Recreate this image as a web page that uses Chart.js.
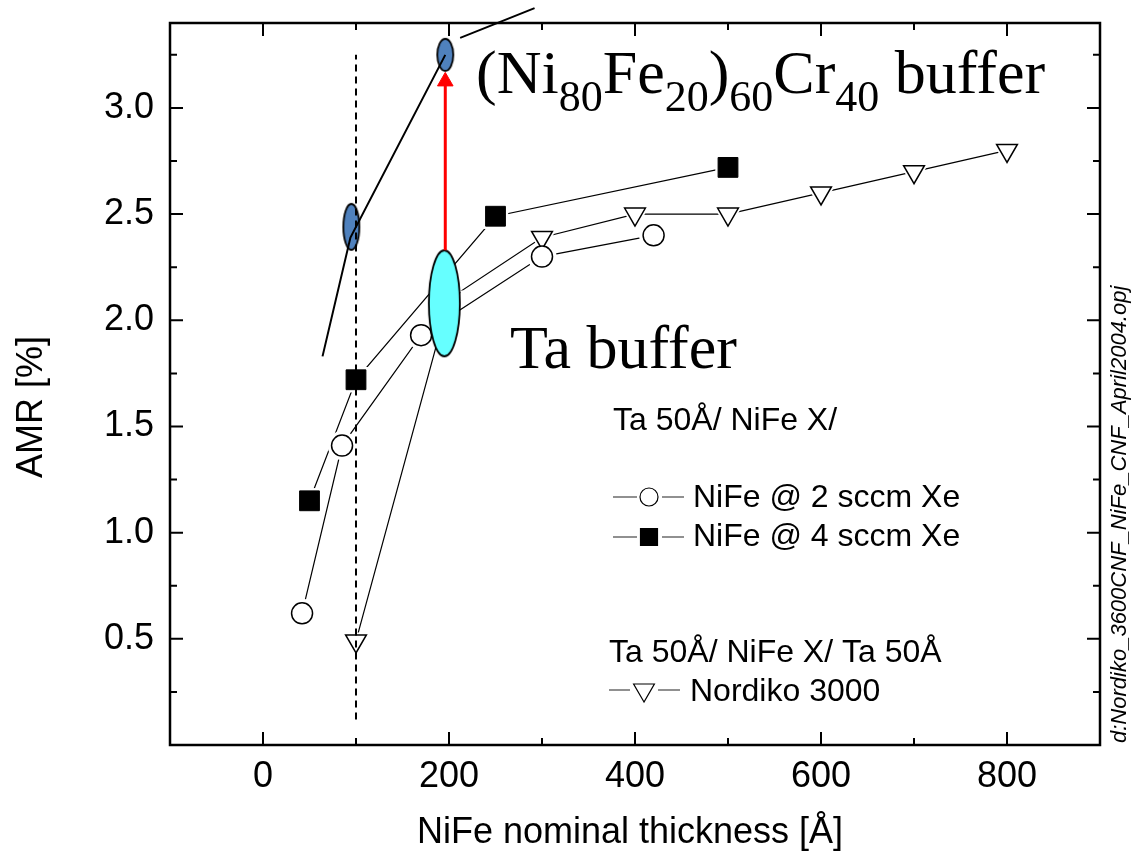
<!DOCTYPE html>
<html>
<head>
<meta charset="utf-8">
<script src="https://cdn.jsdelivr.net/npm/chart.js@4.4.1/dist/chart.umd.min.js"></script>
<style>
html, body { margin: 0; padding: 0; background: #fff; }
#wrap { width: 1132px; height: 858px; }
</style>
</head>
<body>
<div id="wrap"><canvas id="chart" width="1132" height="858"></canvas></div>
<script>
// NiFe @ 2 sccm Xe (open circles)
const thick2 = [42, 85, 170, 300, 420];
const amr2 = [0.62, 1.41, 1.93, 2.30, 2.40];
// NiFe @ 4 sccm Xe (filled squares)
const thick4 = [50, 100, 250, 500];
const amr4 = [1.15, 1.72, 2.49, 2.72];
// Nordiko 3000 (open triangles), the 200 A point sits under the cyan ellipse
const thickN = [100, 200, 300, 400, 500, 600, 700, 800];
const amrN = [0.49, 2.10, 2.39, 2.50, 2.50, 2.60, 2.70, 2.80];
// (Ni80Fe20)60Cr40 buffer guide line
const thickCr = [64, 94, 196];
const amrCr = [1.83, 2.39, 3.25];
const thickCrTail = [212, 292];
const amrCrTail = [3.33, 3.47];
// highlighted points
const blueX = [95, 196];
const blueY = [2.44, 3.25];
const cyanX = [195];
const cyanY = [2.08];
// red arrow
const arrowX = [196, 196];
const arrowY = [2.33, 3.125];
// dashed line at 100 A
const dashX = [100, 100];
const dashY = [0.12, 3.25];

// axis ticks
const xMajor = [0, 200, 400, 600, 800];
const xMinor = [100, 300, 500, 700];
const yMajor = [0.5, 1.0, 1.5, 2.0, 2.5, 3.0];
const yMinor = [0.25, 0.75, 1.25, 1.75, 2.25, 2.75, 3.25];

const SANS = "'Liberation Sans', Arial, sans-serif";
const SERIF = "'Liberation Serif', 'Times New Roman', serif";

function pts(xs, ys) {
    return xs.map((x, i) => ({ x: x, y: ys[i] }));
}

function ellipseImg(w, h, fill) {
    const c = document.createElement('canvas');
    c.width = w + 4;
    c.height = h + 4;
    const g = c.getContext('2d');
    g.beginPath();
    g.ellipse(c.width / 2, c.height / 2, w / 2, h / 2, 0, 0, Math.PI * 2);
    g.fillStyle = fill;
    g.fill();
    g.lineWidth = 1.8;
    g.strokeStyle = '#000';
    g.stroke();
    return c;
}

const blueBig = ellipseImg(16, 46, '#4f81bd');
const blueSmall = ellipseImg(16, 32, '#4f81bd');
const cyanEll = ellipseImg(31, 106, '#66ffff');

function lineSet(data, order) {
    return { data: data, showLine: true, borderColor: '#000', borderWidth: 1.2, pointRadius: 0, order: order };
}
function haloSet(data, style, r, rot) {
    return { data: data, showLine: false, pointStyle: style, pointRadius: r, rotation: rot || 0,
        pointBackgroundColor: '#fff', pointBorderColor: '#fff', pointBorderWidth: 0, order: 4 };
}

// frame, inward ticks and all annotation text
const decor = {
    id: 'decor',
    afterDraw(chart) {
        const ctx = chart.ctx;
        const a = chart.chartArea;
        const x = chart.scales.x, y = chart.scales.y;
        ctx.save();
        ctx.strokeStyle = '#000';
        ctx.lineWidth = 2.5;
        ctx.strokeRect(a.left, a.top, a.right - a.left, a.bottom - a.top);
        ctx.lineWidth = 2;
        const xt = (vals, len) => vals.forEach(v => {
            const p = x.getPixelForValue(v);
            ctx.beginPath();
            ctx.moveTo(p, a.bottom); ctx.lineTo(p, a.bottom - len);
            ctx.moveTo(p, a.top); ctx.lineTo(p, a.top + len);
            ctx.stroke();
        });
        const yt = (vals, len) => vals.forEach(v => {
            const p = y.getPixelForValue(v);
            ctx.beginPath();
            ctx.moveTo(a.left, p); ctx.lineTo(a.left + len, p);
            ctx.moveTo(a.right, p); ctx.lineTo(a.right - len, p);
            ctx.stroke();
        });
        xt(xMajor, 13); xt(xMinor, 7);
        yt(yMajor, 13); yt(yMinor, 7);

        ctx.fillStyle = '#000';
        // axis titles
        ctx.font = '36px ' + SANS;
        ctx.textAlign = 'center';
        ctx.textBaseline = 'alphabetic';
        ctx.fillText('NiFe nominal thickness [\u00c5]', 630, 843);
        ctx.save();
        ctx.translate(42, 407);
        ctx.rotate(-Math.PI / 2);
        ctx.fillText('AMR [%]', 0, 0);
        ctx.restore();

        // file name on the right
        ctx.save();
        ctx.font = 'italic 22px ' + SANS;
        ctx.textAlign = 'left';
        ctx.translate(1126, 743);
        ctx.rotate(-Math.PI / 2);
        ctx.fillText('d:Nordiko_3600CNF_NiFe_CNF_April2004.opj', 0, 0);
        ctx.restore();

        // big serif labels
        ctx.textAlign = 'left';
        let cx = 476;
        const parts = [['(Ni', 0], ['80', 1], ['Fe', 0], ['20', 1], [')', 0], ['60', 1], ['Cr', 0], ['40', 1], [' buffer', 0]];
        parts.forEach(p => {
            ctx.font = (p[1] ? '44px ' : '62px ') + SERIF;
            ctx.fillText(p[0], cx, p[1] ? 111 : 93);
            cx += ctx.measureText(p[0]).width;
        });
        ctx.font = '62px ' + SERIF;
        ctx.fillText('Ta buffer', 510, 368);

        // legend
        ctx.font = '32px ' + SANS;
        ctx.fillText('Ta 50\u00c5/ NiFe X/', 613, 430);
        ctx.fillText('NiFe @ 2 sccm Xe', 693, 507);
        ctx.fillText('NiFe @ 4 sccm Xe', 693, 546);
        ctx.fillText('Ta 50\u00c5/ NiFe X/ Ta 50\u00c5', 609, 662);
        ctx.fillText('Nordiko 3000', 690, 701);
        ctx.strokeStyle = '#222';
        ctx.lineWidth = 1.2;
        const legLine = (x1, x2, x3, x4, yy) => {
            ctx.beginPath();
            ctx.moveTo(x1, yy); ctx.lineTo(x2, yy);
            ctx.moveTo(x3, yy); ctx.lineTo(x4, yy);
            ctx.stroke();
        };
        legLine(613, 637, 662, 684, 497);
        legLine(613, 637, 662, 684, 537);
        legLine(609, 630, 658, 680, 690);
        ctx.strokeStyle = '#000';
        ctx.fillStyle = '#fff';
        Chart.helpers.drawPoint(ctx, { pointStyle: 'circle', radius: 9, borderWidth: 1.5, rotation: 0 }, 649, 497);
        ctx.fillStyle = '#000';
        Chart.helpers.drawPoint(ctx, { pointStyle: 'rect', radius: 12, borderWidth: 1, rotation: 0 }, 649, 537);
        ctx.fillStyle = '#fff';
        Chart.helpers.drawPoint(ctx, { pointStyle: 'triangle', radius: 12, borderWidth: 1.5, rotation: 180 }, 644, 690);
        ctx.restore();
    }
};

new Chart(document.getElementById('chart'), {
    type: 'scatter',
    data: {
        datasets: [
            // series lines
            lineSet(pts(thick2, amr2), 5),
            lineSet(pts(thick4, amr4), 5),
            lineSet(pts(thickN, amrN), 5),
            // white halos give the gap between lines and markers
            haloSet(pts(thick2, amr2), 'circle', 14.5),
            haloSet(pts(thick4, amr4), 'rect', 18),
            haloSet(pts(thickN, amrN), 'triangle', 17, 180),
            // markers
            { data: pts(thick2, amr2), showLine: false, pointStyle: 'circle', pointRadius: 10.5,
              pointBackgroundColor: '#fff', pointBorderColor: '#000', pointBorderWidth: 1.5, order: 3 },
            { data: pts(thick4, amr4), showLine: false, pointStyle: 'rect', pointRadius: 14,
              pointBackgroundColor: '#000', pointBorderColor: '#000', pointBorderWidth: 1, order: 3 },
            { data: pts(thickN, amrN), showLine: false, pointStyle: 'triangle', pointRadius: 12, rotation: 180,
              pointBackgroundColor: '#fff', pointBorderColor: '#000', pointBorderWidth: 1.5, order: 3 },
            // NiCr buffer guide lines
            { data: pts(thickCr, amrCr), showLine: true, borderColor: '#000', borderWidth: 2, pointRadius: 0, order: 6 },
            { data: pts(thickCrTail, amrCrTail), showLine: true, borderColor: '#000', borderWidth: 2, pointRadius: 0, order: 6, clip: false },
            // blue ellipses
            { data: pts(blueX, blueY), showLine: false, pointStyle: [blueBig, blueSmall], pointRadius: 2, order: 7 },
            // dashed line
            { data: pts(dashX, dashY), showLine: true, borderColor: '#000', borderWidth: 2, borderDash: [7, 5], pointRadius: 0, order: 2 },
            // cyan ellipse
            { data: pts(cyanX, cyanY), showLine: false, pointStyle: cyanEll, pointRadius: 2, order: 1 },
            // red arrow
            { data: pts(arrowX, arrowY), showLine: true, borderColor: '#ff0000', borderWidth: 3,
              pointStyle: 'triangle', pointRadius: [0, 9], pointBackgroundColor: '#ff0000',
              pointBorderColor: '#ff0000', pointBorderWidth: 1, order: 0 }
        ]
    },
    options: {
        responsive: false,
        animation: false,
        devicePixelRatio: 1,
        layout: { padding: { top: 23, right: 32, left: 0, bottom: 0 } },
        plugins: { legend: { display: false }, tooltip: { enabled: false } },
        scales: {
            x: {
                type: 'linear', min: -100, max: 900,
                grid: { display: false, drawTicks: false },
                border: { display: false },
                ticks: {
                    stepSize: 100, autoSkip: false, maxRotation: 0, padding: 10, color: '#000',
                    font: { family: SANS, size: 36 },
                    callback: v => (v % 200 === 0 && v >= 0 && v <= 800) ? String(v) : ''
                },
                afterFit: s => { s.height = 113; s.paddingLeft = 0; s.paddingRight = 0; }
            },
            y: {
                type: 'linear', min: 0, max: 3.4,
                grid: { display: false, drawTicks: false },
                border: { display: false },
                ticks: {
                    stepSize: 0.25, autoSkip: false, padding: 16, color: '#000',
                    font: { family: SANS, size: 36 },
                    callback: v => {
                        const d = v * 2;
                        return (Math.abs(d - Math.round(d)) < 1e-6 && v > 0.1 && v < 3.1) ? v.toFixed(1) : '';
                    }
                },
                afterFit: s => { s.width = 170; s.paddingTop = 0; s.paddingBottom = 0; }
            }
        }
    },
    plugins: [decor]
});
</script>
</body>
</html>
